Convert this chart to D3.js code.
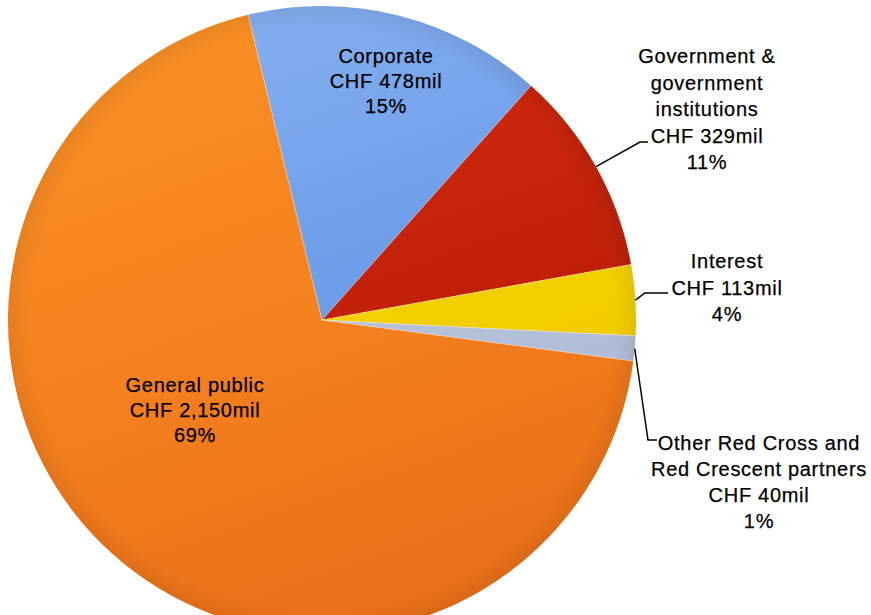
<!DOCTYPE html>
<html><head><meta charset="utf-8">
<script src="https://cdn.jsdelivr.net/npm/d3@7"></script>
<style>html,body{margin:0;padding:0;background:#fff;}svg{display:block;}</style>
</head><body>
<svg id="chart" width="871" height="615"></svg>
<script>
// ---- data ----
const categories = ["Corporate", "Government & government institutions", "Interest", "Other Red Cross and Red Crescent partners", "General public"];
const valuesCHFmil = [478, 329, 113, 40, 2150];
const percentLabels = ["15%", "11%", "4%", "1%", "69%"];
const labelLines = [
  ["Corporate", "CHF 478mil", "15%"],
  ["Government &", "government", "institutions", "CHF 329mil", "11%"],
  ["Interest", "CHF 113mil", "4%"],
  ["Other Red Cross and", "Red Crescent partners", "CHF 40mil", "1%"],
  ["General public", "CHF 2,150mil", "69%"]
];

// ---- layout/styling ----
const cx = 322, cy = 320, R = 314;
const startDeg = -13.6;
const fills = [
  ["#86b0f0", "#6e9de9", "#6593e3"],
  ["#d92e0c", "#c4220a", "#b31b04"],
  ["#ffe424", "#f6d200", "#ecc400"],
  ["#d0d8ea", "#b8c3db", "#a9b6d0"],
  ["#fa9024", "#f5821f", "#e96e17"]
];
// label layout: [centerX, firstBaselineY, lineHeight]
const labelLayout = [
  [386, 63, 25],
  [707, 63, 26.5],
  [727, 268, 26.5],
  [759, 450, 26],
  [195, 392, 25]
];
// leader elbows (for outside labels): [elbowX, elbowY, endX]
const leaders = {1: [640, 142, 648], 2: [645, 293, 668], 3: [648, 440, 657]};

const svg = d3.select("#chart");
const defs = svg.append("defs");
fills.forEach((f, i) => {
  const gr = defs.append("linearGradient").attr("id", "g" + i)
    .attr("gradientUnits", "userSpaceOnUse")
    .attr("x1", -R * 0.4).attr("y1", -R).attr("x2", R * 0.3).attr("y2", R);
  gr.append("stop").attr("offset", "0%").attr("stop-color", f[0]);
  gr.append("stop").attr("offset", "45%").attr("stop-color", f[1]);
  gr.append("stop").attr("offset", "100%").attr("stop-color", f[2]);
});
const rg = defs.append("radialGradient").attr("id", "edge")
  .attr("gradientUnits", "userSpaceOnUse").attr("cx", 0).attr("cy", 0).attr("r", R);
rg.append("stop").attr("offset", "93%").attr("stop-color", "#000").attr("stop-opacity", 0);
rg.append("stop").attr("offset", "100%").attr("stop-color", "#000").attr("stop-opacity", 0.07);

const rad = Math.PI / 180;
const pie = d3.pie().sort(null).value(d => d)
  .startAngle(startDeg * rad).endAngle(startDeg * rad + 2 * Math.PI);
const arcs = pie(valuesCHFmil);
const arc = d3.arc().innerRadius(0).outerRadius(R);

const g = svg.append("g").attr("transform", `translate(${cx},${cy})`);
g.selectAll("path.slice").data(arcs).join("path")
  .attr("class", "slice")
  .attr("d", arc)
  .attr("fill", (d, i) => `url(#g${i})`);
g.append("circle").attr("r", R).attr("fill", "url(#edge)");
g.selectAll("line.sep").data(arcs).join("line")
  .attr("class", "sep")
  .attr("x1", 0).attr("y1", 0)
  .attr("x2", d => R * Math.sin(d.startAngle))
  .attr("y2", d => -R * Math.cos(d.startAngle))
  .attr("stroke", "rgba(255,255,255,0.35)").attr("stroke-width", 1);

// leader lines
Object.keys(leaders).forEach(k => {
  const d = arcs[k];
  const mid = (d.startAngle + d.endAngle) / 2;
  const sx = cx + R * Math.sin(mid), sy = cy - R * Math.cos(mid);
  const [ex, ey, endX] = leaders[k];
  svg.append("path")
    .attr("d", d3.line()([[sx, sy], [ex, ey], [endX, ey]]))
    .attr("fill", "none").attr("stroke", "#000").attr("stroke-width", 1.5);
});

// labels
labelLines.forEach((lines, i) => {
  const [x, y0, lh] = labelLayout[i];
  const t = svg.append("text")
    .attr("text-anchor", "middle")
    .attr("font-family", "'Liberation Sans', Arial, sans-serif")
    .attr("font-size", 20)
    .attr("letter-spacing", 0.7)
    .attr("fill", "#000")
    .attr("stroke", "#000").attr("stroke-width", 0.25);
  lines.forEach((s, j) => {
    t.append("tspan").attr("x", x).attr("y", y0 + j * lh).text(s);
  });
});
</script>
</body></html>
